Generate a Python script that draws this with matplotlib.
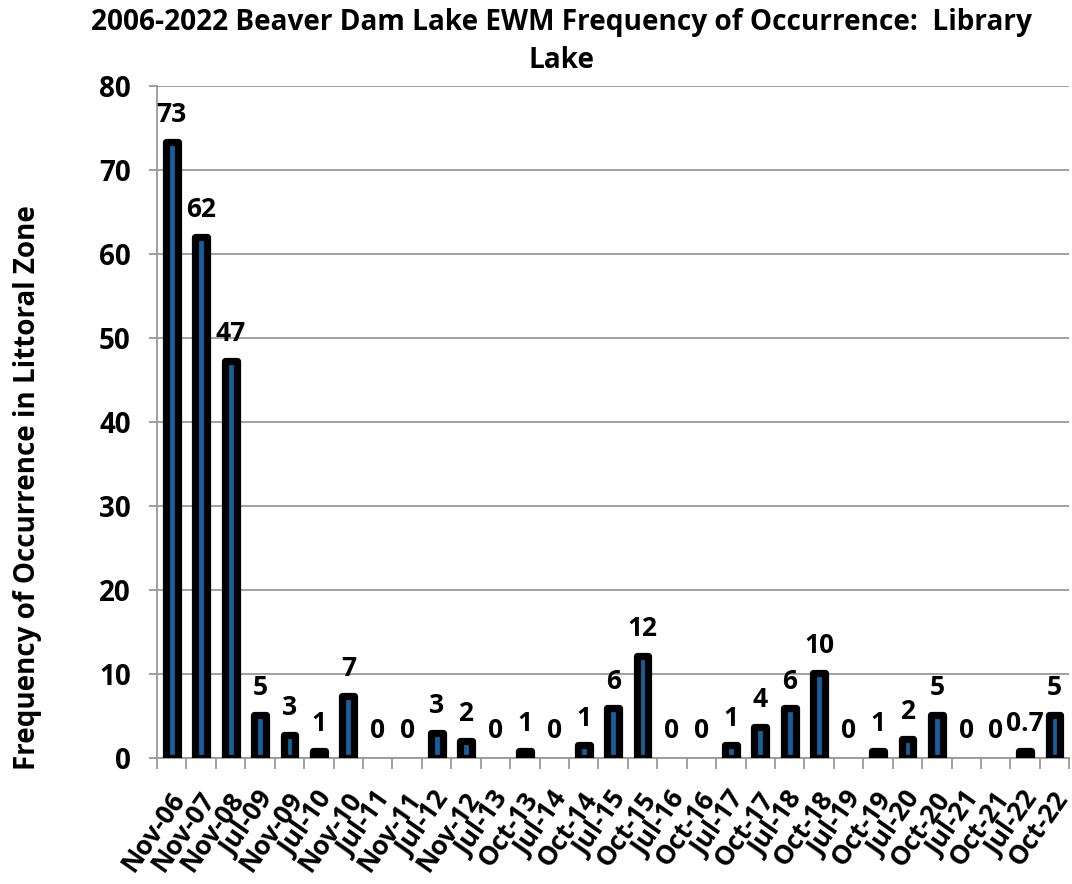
import numpy as np
import matplotlib.pyplot as plt
from matplotlib.transforms import ScaledTranslation

categories = ['Nov-06', 'Nov-07', 'Nov-08', 'Jul-09', 'Nov-09', 'Jul-10', 'Nov-10',
              'Jul-11', 'Nov-11', 'Jul-12', 'Nov-12', 'Jul-13', 'Oct-13', 'Jul-14',
              'Oct-14', 'Jul-15', 'Oct-15', 'Jul-16', 'Oct-16', 'Jul-17', 'Oct-17',
              'Jul-18', 'Oct-18', 'Jul-19', 'Oct-19', 'Jul-20', 'Oct-20', 'Jul-21',
              'Oct-21', 'Jul-22', 'Oct-22']
# bar heights
values = [73.3, 62.0, 47.3, 5.1, 2.7, 0.8, 7.4, 0, 0, 3.0, 2.0, 0, 0.8, 0,
          1.5, 5.9, 12.2, 0, 0, 1.5, 3.7, 5.9, 10.1, 0, 0.8, 2.3, 5.1, 0, 0, 0.8, 5.1]
# data labels as printed on the chart
labels = ['73', '62', '47', '5', '3', '1', '7', '0', '0', '3', '2', '0', '1', '0',
          '1', '6', '12', '0', '0', '1', '4', '6', '10', '0', '1', '2', '5', '0', '0',
          '0.7', '5']

plt.rcParams['font.family'] = ['Open Sans', 'DejaVu Sans']
plt.rcParams['font.weight'] = 'bold'

fig = plt.figure(figsize=(10.72, 8.84), dpi=100)
ax = fig.add_axes([0.1465, 0.1425, 0.851, 0.7602])

x = np.arange(len(categories))
bars = ax.bar(x, values, width=0.40, color='#17609e', edgecolor='black',
              linewidth=5.2, joinstyle='round', zorder=3)
for b, v in zip(bars, values):
    if v == 0:
        b.set_linewidth(0)

for xi, v, lab in zip(x, values, labels):
    ax.annotate(lab, (xi, v), xytext=(0, 10), textcoords='offset points',
                ha='center', va='bottom', fontsize=19, fontweight='bold')

ax.set_xlim(-0.5, len(categories) - 0.5)
ax.set_ylim(0, 80)
ax.set_yticks(range(0, 81, 10))
ax.yaxis.grid(True, color='#999999', linewidth=1.3, zorder=0)
ax.tick_params(axis='y', length=6, color='#999999', width=1.3, labelsize=20, pad=13)

ax.set_xticks(x)
ax.set_xticklabels(categories, rotation=55, ha='right', va='center',
                   rotation_mode='anchor', fontsize=19, fontweight='bold')
ax.tick_params(axis='x', which='major', length=0, pad=26)
shift = ScaledTranslation(8 / 100, 0, fig.dpi_scale_trans)
for t in ax.get_xticklabels():
    t.set_transform(t.get_transform() + shift)
ax.set_xticks(np.arange(-0.5, len(categories), 1), minor=True)
ax.tick_params(axis='x', which='minor', length=8, color='#999999', width=1.3)

for s in ['top', 'right']:
    ax.spines[s].set_visible(False)
for s in ['left', 'bottom']:
    ax.spines[s].set_color('#999999')
    ax.spines[s].set_linewidth(1.3)

fig.text(0.026, 0.449, 'Frequency of Occurrence in Littoral Zone', rotation=90,
         ha='center', va='center', fontsize=20, fontweight='bold')

fig.text(0.524, 0.975, '2006-2022 Beaver Dam Lake EWM Frequency of Occurrence:  Library',
         ha='center', va='center', fontsize=20.2, fontweight='bold')
fig.text(0.524, 0.932, 'Lake', ha='center', va='center', fontsize=20.2, fontweight='bold')

fig.savefig('out.png', dpi=100)
